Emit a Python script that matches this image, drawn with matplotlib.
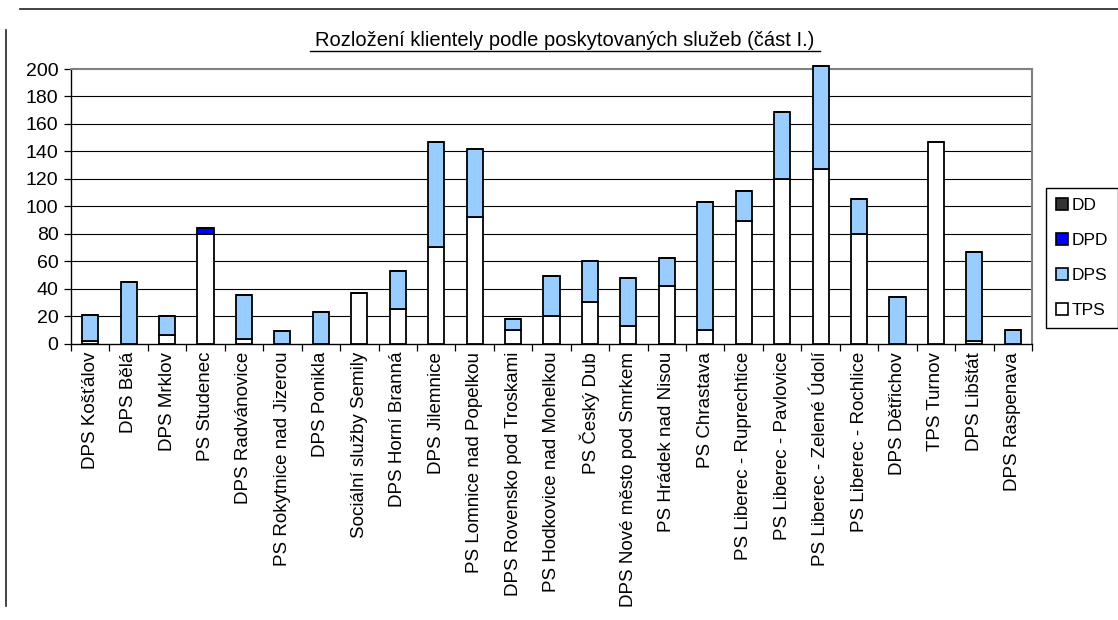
import numpy as np
import matplotlib
matplotlib.use("Agg")
import matplotlib.pyplot as plt
from matplotlib.patches import Patch
from matplotlib.lines import Line2D

# ── Data ─────────────────────────────────────────────────────────
zarizeni = [
    "DPS Košťálov", "DPS Bělá", "DPS Mrklov", "PS Studenec",
    "DPS Radvánovice", "PS Rokytnice nad Jizerou", "DPS Ponikla",
    "Sociální služby Semily", "DPS Horní Branná", "DPS Jilemnice",
    "PS Lomnice nad Popelkou", "DPS Rovensko pod Troskami",
    "PS Hodkovice nad Mohelkou", "PS Český Dub",
    "DPS Nové město pod Smrkem", "PS Hrádek nad Nisou", "PS Chrastava",
    "PS Liberec - Ruprechtice", "PS Liberec - Pavlovice",
    "PS Liberec - Zelené Údolí", "PS Liberec - Rochlice",
    "DPS Dětřichov", "TPS Turnov", "DPS Libštát", "DPS Raspenava",
]
tps = [2, 0, 6, 80, 3, 0, 0, 37, 25, 70, 92, 10, 20, 30, 13, 42, 10,
       89, 120, 127, 80, 0, 147, 2, 0]
dps = [19, 45, 14, 0, 32, 9, 23, 0, 28, 77, 50, 8, 29, 30, 35, 20, 93,
       22, 49, 75, 25, 34, 0, 65, 10]
dpd = [0, 0, 0, 4, 0, 0, 0, 0, 0, 0, 0, 0, 0, 0, 0, 0, 0,
       0, 0, 0, 0, 0, 0, 0, 0]
dd = [0] * len(zarizeni)

y_ticks = list(range(0, 201, 20))
TITLE = "Rozložení klientely podle poskytovaných služeb (část I.)"

# ── Style ────────────────────────────────────────────────────────
C_DD = "#333333"
C_DPD = "#0000ff"
C_DPS = "#99ccff"
C_TPS = "#ffffff"
EDGE = "#000000"
FRAME = "#808080"

plt.rcParams["font.family"] = ["Liberation Sans", "DejaVu Sans"]

W, H = 1118, 620
fig = plt.figure(figsize=(W / 100, H / 100), dpi=100, facecolor="white")

# page rules around the chart
fig.add_artist(Line2D([20 / W, 1.0], [1 - 9 / H, 1 - 9 / H],
                      color="#222222", lw=1.2))
fig.add_artist(Line2D([6 / W, 6 / W], [1 - 30 / H, 1 - 606 / H],
                      color="#222222", lw=1.2))

left, right, top, bottom = 71, 1032, 69, 343.5
ax = fig.add_axes([left / W, 1 - bottom / H, (right - left) / W,
                   (bottom - top) / H])

x = np.arange(len(zarizeni))
bw = 0.42
tps_a, dps_a, dpd_a, dd_a = map(np.array, (tps, dps, dpd, dd))

for yv in y_ticks[1:-1]:
    ax.axhline(yv, color="#000000", lw=0.8, zorder=0)

kw = dict(width=bw, edgecolor=EDGE, linewidth=1.3, zorder=3, clip_on=False)
ax.bar(x, tps_a, color=C_TPS, **kw)
ax.bar(x, dps_a, bottom=tps_a, color=C_DPS, **kw)
m = dpd_a > 0
ax.bar(x[m], dpd_a[m], bottom=(tps_a + dps_a)[m], color=C_DPD, **kw)
ax.bar(x, dd_a, bottom=tps_a + dps_a + dpd_a, color=C_DD, **kw)

ax.set_xlim(-0.5, len(zarizeni) - 0.5)
ax.set_ylim(0, 200)
ax.set_yticks(y_ticks)
ax.tick_params(axis="y", direction="out", length=5, width=0.9,
               pad=4, labelsize=14)

ax.set_xticks(x)
ax.set_xticklabels(zarizeni, rotation=90, fontsize=13.5)
ax.tick_params(axis="x", which="major", length=0, pad=6)
ax.set_xticks(np.arange(len(zarizeni) + 1) - 0.5, minor=True)
ax.tick_params(axis="x", which="minor", direction="out", length=5,
               width=0.9)

ax.spines["left"].set_color("#000000")
ax.spines["bottom"].set_color("#000000")
ax.spines["left"].set_linewidth(1.0)
ax.spines["bottom"].set_linewidth(1.0)
ax.spines["top"].set_color(FRAME)
ax.spines["right"].set_color(FRAME)
ax.spines["top"].set_linewidth(1.5)
ax.spines["right"].set_linewidth(1.5)

fig.text(565 / W, 1 - 40 / H, TITLE, ha="center", va="center",
         fontsize=14.5, color="#000000")
# underline under the title
fig.add_artist(Line2D([310 / W, 820 / W], [1 - 50.5 / H, 1 - 50.5 / H],
                      color="#000000", lw=1.0))

handles = [Patch(facecolor=c, edgecolor=EDGE, linewidth=1.2)
           for c in (C_DD, C_DPD, C_DPS, C_TPS)]
leg = fig.legend(handles, ["DD", "DPD", "DPS", "TPS"],
                 loc="upper left", bbox_to_anchor=(1046 / W, 1 - 188 / H),
                 fontsize=12.5, frameon=True, fancybox=False,
                 edgecolor="#000000", framealpha=1, labelspacing=1.15,
                 handlelength=0.7, handleheight=0.7, handletextpad=0.25,
                 borderpad=0.55, borderaxespad=0)
leg.get_frame().set_linewidth(1.0)

fig.savefig("out.png", dpi=100, facecolor="white")
